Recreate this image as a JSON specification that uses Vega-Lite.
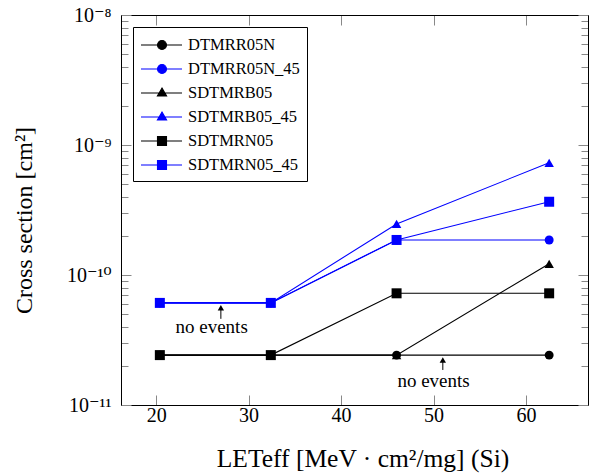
{
  "$schema": "https://vega.github.io/schema/vega-lite/v6.json",
  "width": 467,
  "height": 390,
  "autosize": {"type": "none"},
  "padding": {"left": 121, "top": 15, "right": 1, "bottom": 70},
  "background": "white",
  "config": {"view": {"stroke": null}, "font": "Liberation Serif"},
  "data": {
    "values": [
      {"series": "DTMRR05N", "LET": 20.4, "sigma": 2.42e-11},
      {"series": "DTMRR05N", "LET": 32.4, "sigma": 2.42e-11},
      {"series": "DTMRR05N", "LET": 46.0, "sigma": 2.42e-11},
      {"series": "DTMRR05N", "LET": 62.5, "sigma": 2.42e-11},
      {"series": "DTMRR05N_45", "LET": 20.4, "sigma": 6.1e-11},
      {"series": "DTMRR05N_45", "LET": 32.4, "sigma": 6.1e-11},
      {"series": "DTMRR05N_45", "LET": 46.0, "sigma": 1.86e-10},
      {"series": "DTMRR05N_45", "LET": 62.5, "sigma": 1.86e-10},
      {"series": "SDTMRB05", "LET": 20.4, "sigma": 2.42e-11},
      {"series": "SDTMRB05", "LET": 32.4, "sigma": 2.42e-11},
      {"series": "SDTMRB05", "LET": 46.0, "sigma": 2.42e-11},
      {"series": "SDTMRB05", "LET": 62.5, "sigma": 1.22e-10},
      {"series": "SDTMRB05_45", "LET": 20.4, "sigma": 6.1e-11},
      {"series": "SDTMRB05_45", "LET": 32.4, "sigma": 6.1e-11},
      {"series": "SDTMRB05_45", "LET": 46.0, "sigma": 2.47e-10},
      {"series": "SDTMRB05_45", "LET": 62.5, "sigma": 7.3e-10},
      {"series": "SDTMRN05", "LET": 20.4, "sigma": 2.42e-11},
      {"series": "SDTMRN05", "LET": 32.4, "sigma": 2.42e-11},
      {"series": "SDTMRN05", "LET": 46.0, "sigma": 7.23e-11},
      {"series": "SDTMRN05", "LET": 62.5, "sigma": 7.23e-11},
      {"series": "SDTMRN05_45", "LET": 20.4, "sigma": 6.1e-11},
      {"series": "SDTMRN05_45", "LET": 32.4, "sigma": 6.1e-11},
      {"series": "SDTMRN05_45", "LET": 46.0, "sigma": 1.86e-10},
      {"series": "SDTMRN05_45", "LET": 62.5, "sigma": 3.66e-10}
    ]
  },
  "layer": [
    {
      "mark": {"type": "line", "strokeWidth": 1.1},
      "encoding": {
        "x": {
          "field": "LET", "type": "quantitative",
          "scale": {"domain": [16.2, 66.7], "nice": false, "zero": false},
          "axis": {
            "orient": "bottom", "values": [20, 30, 40, 50, 60], "grid": false,
            "tickSize": -10, "tickColor": "#888888", "tickWidth": 1,
            "domainColor": "black", "domainWidth": 1,
            "labelFont": "Liberation Serif", "labelFontSize": 20, "labelColor": "black",
            "labelPadding": 10, "labelFlush": false,
            "title": "LETeff [MeV · cm²/mg] (Si)",
            "titleFont": "Liberation Serif", "titleFontSize": 25.5, "titleFontWeight": "normal",
            "titleColor": "black", "titleX": 241.5, "titleY": 61,
            "titleBaseline": "alphabetic", "titleAlign": "center"
          }
        },
        "y": {
          "field": "sigma", "type": "quantitative",
          "scale": {"type": "log", "domain": [1e-11, 1e-8], "nice": false},
          "axis": {
            "orient": "left", "grid": false,
            "values": [1e-11, 2e-11, 3e-11, 4e-11, 5e-11, 6e-11, 7e-11, 8e-11, 9e-11, 1e-10, 2e-10, 3e-10, 4e-10, 5e-10, 6e-10, 7e-10, 8e-10, 9e-10, 1e-9, 2e-9, 3e-9, 4e-9, 5e-9, 6e-9, 7e-9, 8e-9, 9e-9, 1e-8],
            "tickSize": {"condition": {"test": "abs(log(datum.value)/LN10 - round(log(datum.value)/LN10)) < 0.001", "value": -10}, "value": -7},
            "tickColor": "#888888", "tickWidth": 1,
            "domainColor": "black", "domainWidth": 1,
            "labelExpr": "abs(log(datum.value)/LN10 - round(log(datum.value)/LN10)) < 0.001 ? (round(log(datum.value)/LN10) == -8 ? '10⁻⁸' : round(log(datum.value)/LN10) == -9 ? '10⁻⁹' : round(log(datum.value)/LN10) == -10 ? '10⁻¹⁰' : '10⁻¹¹') : ''",
            "labelFont": "Liberation Serif, DejaVu Serif", "labelFontSize": 20, "labelColor": "black",
            "labelPadding": 20, "labelOverlap": false, "labelFlush": false, "labelBaseline": "middle",
            "title": "Cross section [cm²]",
            "titleFont": "Liberation Serif", "titleFontSize": 24, "titleFontWeight": "normal",
            "titleColor": "black", "titleX": -90, "titleY": 205, "titleAngle": -90,
            "titleBaseline": "alphabetic", "titleAlign": "center"
          }
        },
        "color": {
          "field": "series", "type": "nominal",
          "scale": {"domain": ["DTMRR05N", "DTMRR05N_45", "SDTMRB05", "SDTMRB05_45", "SDTMRN05", "SDTMRN05_45"], "range": ["#000000", "#0000ff", "#000000", "#0000ff", "#000000", "#0000ff"]},
          "legend": {
            "title": null, "orient": "none", "legendX": 12, "legendY": 12,
            "padding": 7, "strokeColor": "black", "fillColor": "white", "cornerRadius": 0,
            "symbolSize": 400, "symbolStrokeWidth": 1.1, "symbolOpacity": 1,
            "symbolType": {"expr": "indexof(datum.value,'DTMRR')>=0 ? 'M-1,0H3.1M1.55,0A0.45,0.45 0 1,1 0.65,0A0.45,0.45 0 1,1 1.55,0Z' : indexof(datum.value,'SDTMRB')>=0 ? 'M-1,0H3.1M1.1,-0.5L1.56,0.3L0.64,0.3Z' : 'M-1,0H3.1M0.65,-0.45H1.55V0.45H0.65Z'"},
            "symbolStrokeColor": {"expr": "indexof(datum.value,'_45')>=0 ? '#0000ff' : '#000000'"},
            "symbolFillColor": {"expr": "indexof(datum.value,'_45')>=0 ? '#0000ff' : '#000000'"},
            "labelOffset": 26, "rowPadding": 4,
            "labelFont": "Liberation Serif", "labelFontSize": 16.5, "labelColor": "black"
          }
        }
      }
    },
    {
      "transform": [{"filter": "indexof(datum.series,'DTMRR')>=0"}],
      "mark": {"type": "point", "filled": true, "opacity": 1, "size": 80, "shape": "circle"},
      "encoding": {
        "x": {
          "field": "LET", "type": "quantitative",
          "axis": {"orient": "top", "values": [20, 30, 40, 50, 60], "grid": false, "labels": false, "title": null,
            "tickSize": -10, "tickColor": "#888888", "tickWidth": 1, "domainColor": "black", "domainWidth": 1}
        },
        "y": {
          "field": "sigma", "type": "quantitative",
          "axis": {
            "orient": "right", "grid": false, "labels": false, "title": null,
            "values": [1e-11, 2e-11, 3e-11, 4e-11, 5e-11, 6e-11, 7e-11, 8e-11, 9e-11, 1e-10, 2e-10, 3e-10, 4e-10, 5e-10, 6e-10, 7e-10, 8e-10, 9e-10, 1e-9, 2e-9, 3e-9, 4e-9, 5e-9, 6e-9, 7e-9, 8e-9, 9e-9, 1e-8],
            "tickSize": {"condition": {"test": "abs(log(datum.value)/LN10 - round(log(datum.value)/LN10)) < 0.001", "value": -10}, "value": -7},
            "tickColor": "#888888", "tickWidth": 1, "domainColor": "black", "domainWidth": 1
          }
        },
        "color": {"field": "series", "type": "nominal"}
      }
    },
    {
      "transform": [{"filter": "indexof(datum.series,'SDTMRB')>=0"}],
      "mark": {"type": "point", "filled": true, "opacity": 1, "size": 90, "shape": "triangle-up"},
      "encoding": {
        "x": {"field": "LET", "type": "quantitative", "axis": null},
        "y": {"field": "sigma", "type": "quantitative", "axis": null},
        "color": {"field": "series", "type": "nominal"}
      }
    },
    {
      "transform": [{"filter": "indexof(datum.series,'SDTMRN')>=0"}],
      "mark": {"type": "point", "filled": true, "opacity": 1, "size": 100, "shape": "square"},
      "encoding": {
        "x": {"field": "LET", "type": "quantitative", "axis": null},
        "y": {"field": "sigma", "type": "quantitative", "axis": null},
        "color": {"field": "series", "type": "nominal"}
      }
    },
    {
      "data": {"values": [
        {"x": 26.0, "y": 3.6e-11, "label": "no events"},
        {"x": 50.0, "y": 1.37e-11, "label": "no events"}
      ]},
      "mark": {"type": "text", "font": "Liberation Serif", "fontSize": 19, "baseline": "alphabetic", "align": "center", "color": "black"},
      "encoding": {
        "x": {"field": "x", "type": "quantitative", "axis": null},
        "y": {"field": "y", "type": "quantitative", "axis": null},
        "text": {"field": "label"}
      }
    },
    {
      "data": {"values": [
        {"x": 27.0, "y": 4.6e-11, "y2": 5.6e-11},
        {"x": 51.0, "y": 1.86e-11, "y2": 2.2e-11}
      ]},
      "mark": {"type": "rule", "color": "black", "strokeWidth": 1},
      "encoding": {
        "x": {"field": "x", "type": "quantitative", "axis": null},
        "y": {"field": "y", "type": "quantitative", "axis": null},
        "y2": {"field": "y2"}
      }
    },
    {
      "data": {"values": [
        {"x": 27.0, "y": 5.6e-11},
        {"x": 51.0, "y": 2.22e-11}
      ]},
      "mark": {"type": "point", "shape": "triangle-up", "filled": true, "color": "black", "size": 40, "opacity": 1},
      "encoding": {
        "x": {"field": "x", "type": "quantitative", "axis": null},
        "y": {"field": "y", "type": "quantitative", "axis": null}
      }
    }
  ],
  "resolve": {"axis": {"x": "independent", "y": "independent"}}
}
